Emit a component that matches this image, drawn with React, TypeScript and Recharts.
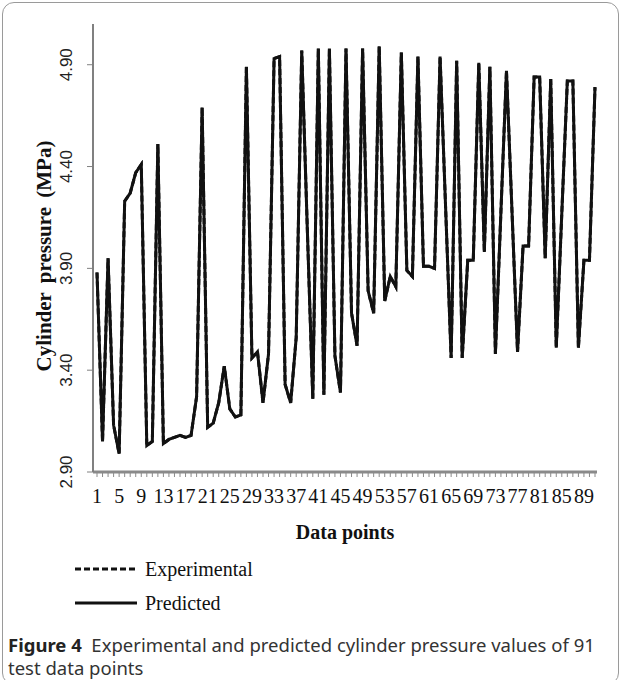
import React from 'react';
import { LineChart, Line, XAxis, YAxis, Legend } from 'recharts';

// Cylinder pressure (MPa) for the 91 test points
const predicted = [
  3.88, 3.05, 3.95, 3.13, 2.99, 4.23, 4.27, 4.37, 4.41, 3.03,
  3.05, 4.51, 3.04, 3.06, 3.07, 3.08, 3.07, 3.08, 3.27, 4.69,
  3.12, 3.14, 3.24, 3.42, 3.21, 3.17, 3.18, 4.89, 3.46, 3.49,
  3.24, 3.48, 4.93, 4.94, 3.33, 3.24, 3.56, 4.97, 4.10, 3.26,
  4.98, 3.28, 4.98, 3.47, 3.29, 4.98, 3.68, 3.52, 4.98, 3.79,
  3.68, 4.99, 3.74, 3.86, 3.81, 4.96, 3.89, 3.86, 4.94, 3.91,
  3.91, 3.90, 4.94, 4.20, 3.46, 4.92, 3.46, 3.94, 3.94, 4.91,
  3.98, 4.89, 3.48, 4.18, 4.87, 4.18, 3.49, 4.01, 4.01, 4.84,
  4.84, 3.95, 4.83, 3.51, 4.17, 4.82, 4.82, 3.51, 3.94, 3.94,
  4.79,
];
// the experimental curve sits exactly under the predicted one in the figure
const experimental = predicted;

const points = predicted.map((_, i) => String(i + 1));
const xTickLabels = ['1', '5', '9', '13', '17', '21', '25', '29', '33', '37', '41', '45',
  '49', '53', '57', '61', '65', '69', '73', '77', '81', '85', '89'];
const yTicks = [2.9, 3.4, 3.9, 4.4, 4.9];

const data = points.map((p, i) => ({
  point: p,
  experimental: experimental[i],
  predicted: predicted[i],
}));

const serif = '"Liberation Serif", "Times New Roman", serif';
const sans = '"Liberation Sans", Arial, sans-serif';

const XTick = ({ x, y, payload }: any) => {
  if (!xTickLabels.includes(payload.value)) return <g />;
  return (
    <text x={x} y={y} dy={24} textAnchor="middle" fontFamily={serif} fontSize={20} fill="#111">
      {payload.value}
    </text>
  );
};

const YTick = ({ y, payload }: any) => {
  const cx = 66;
  return (
    <text
      x={cx}
      y={y}
      dy="0.35em"
      textAnchor="middle"
      transform={`rotate(-90 ${cx} ${y})`}
      fontFamily={sans}
      fontSize={17}
      fill="#222"
    >
      {Number(payload.value).toFixed(2)}
    </text>
  );
};

// axis titles ignore the props recharts passes in and sit where the figure has them
const XTitle = () => (
  <text x={345} y={539} textAnchor="middle" fontFamily={serif} fontSize={20} fontWeight="bold" fill="#111">
    Data points
  </text>
);

const YTitle = () => (
  <text
    x={44}
    y={256}
    dy="0.35em"
    textAnchor="middle"
    transform="rotate(-90 44 256)"
    fontFamily={serif}
    fontSize={21}
    fontWeight="bold"
    fill="#111"
    style={{ wordSpacing: 4 }}
  >
    Cylinder pressure (MPa)
  </text>
);

const LegendBox = () => (
  <svg width={200} height={60}>
    <line x1={0} y1={12} x2={62} y2={12} stroke="#111" strokeWidth={3} strokeDasharray="6 3" />
    <text x={70} y={19} fontFamily={serif} fontSize={20} fill="#111">Experimental</text>
    <line x1={0} y1={46} x2={62} y2={46} stroke="#111" strokeWidth={3} />
    <text x={70} y={53} fontFamily={serif} fontSize={20} fill="#111">Predicted</text>
  </svg>
);

export default function App() {
  return (
    <div style={{ position: 'absolute', left: 0, top: 0, width: 624, height: 680, background: '#fff', overflow: 'hidden' }}>
      <div
        style={{
          position: 'absolute', left: 2, top: 2, width: 617, height: 683,
          border: '1px solid #9a9a9a', borderRadius: 12, boxSizing: 'border-box',
        }}
      />
      <LineChart width={624} height={680} data={data} margin={{ top: 24, right: 27, left: 0, bottom: 168 }}>
        <XAxis
          dataKey="point"
          interval={0}
          padding={{ left: 4, right: 2 }}
          height={40}
          stroke="#8a8a8a"
          axisLine={{ stroke: '#8a8a8a', strokeWidth: 3 }}
          tickLine={{ stroke: '#8a8a8a' }}
          tickSize={5}
          tick={<XTick />}
          label={<XTitle />}
        />
        <XAxis
          xAxisId="top"
          orientation="top"
          dataKey="point"
          padding={{ left: 4, right: 2 }}
          height={0}
          tick={false}
          tickLine={false}
          axisLine={{ stroke: '#111', strokeWidth: 3 }}
        />
        <YAxis
          width={93}
          domain={[2.9, 5.1]}
          ticks={yTicks}
          allowDataOverflow
          axisLine={{ stroke: '#808080', strokeWidth: 2 }}
          tickLine={{ stroke: '#808080' }}
          tickSize={6}
          tick={<YTick />}
          label={<YTitle />}
        />
        <YAxis
          yAxisId="right"
          orientation="right"
          width={0}
          domain={[2.9, 5.1]}
          tick={false}
          tickLine={false}
          axisLine={{ stroke: '#111', strokeWidth: 3 }}
        />
        <Legend
          layout="vertical"
          align="center"
          verticalAlign="middle"
          content={<LegendBox />}
          wrapperStyle={{ position: 'absolute', left: 75, top: 557, width: 200, height: 60 }}
        />
        <Line
          xAxisId="top"
          yAxisId="right"
          type="linear"
          dataKey="experimental"
          name="Experimental"
          stroke="#111"
          strokeWidth={3}
          strokeDasharray="6 3"
          dot={false}
          isAnimationActive={false}
        />
        <Line
          type="linear"
          dataKey="predicted"
          name="Predicted"
          stroke="#111"
          strokeWidth={3}
          strokeLinejoin="miter"
          dot={false}
          isAnimationActive={false}
        />
      </LineChart>
      <div
        style={{
          position: 'absolute', left: 8, top: 633, width: 614, whiteSpace: 'nowrap',
          fontFamily: '"Noto Sans", sans-serif', fontSize: 18.5, lineHeight: '23px', color: '#333',
          letterSpacing: 0,
        }}
      >
        <b style={{ color: '#222' }}>Figure 4</b>&nbsp; Experimental and predicted cylinder pressure values of 91
        <br />
        test data points
      </div>
    </div>
  );
}
